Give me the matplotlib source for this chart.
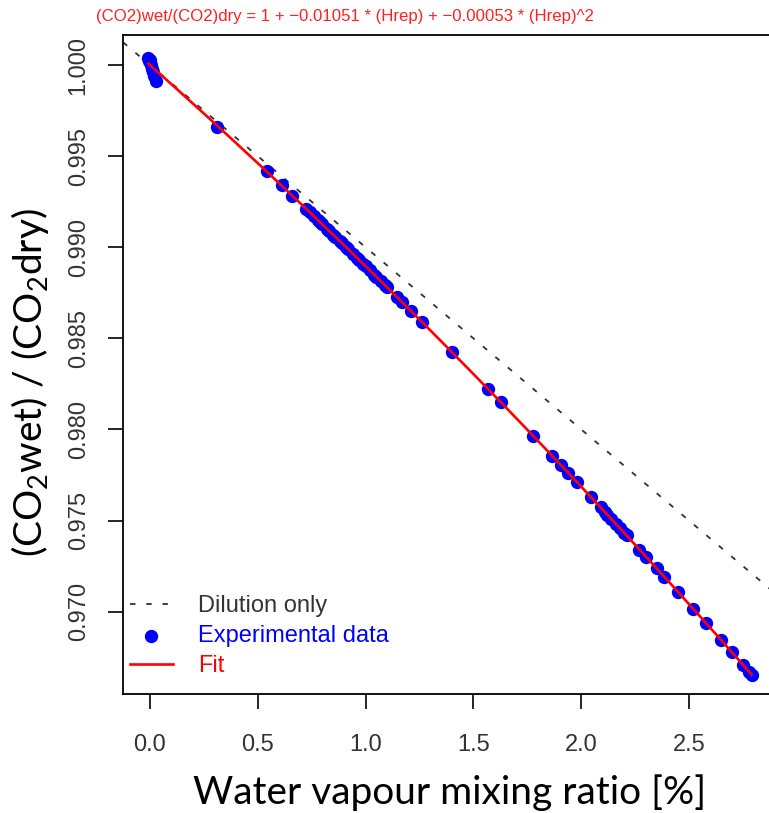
import matplotlib
matplotlib.use('Agg')
import matplotlib.pyplot as plt
import numpy as np

plt.rcParams['font.family'] = ['Liberation Sans', 'DejaVu Sans']
plt.rcParams['mathtext.fontset'] = 'custom'
plt.rcParams['mathtext.rm'] = 'Lato'

hrep = [-0.008, 0.0, -0.004, 0.004, 0.008, 0.012, 0.02, 0.028,
        0.31, 0.543, 0.612, 0.659, 0.723,
        0.74, 0.76, 0.78, 0.79, 0.80, 0.82, 0.83, 0.85, 0.86, 0.88, 0.89,
        0.91, 0.92, 0.94, 0.96, 0.97, 0.99, 1.00, 1.02, 1.04, 1.05, 1.07,
        1.09, 1.10, 1.146, 1.17, 1.21, 1.26,
        1.40, 1.568, 1.628, 1.777, 1.864, 1.906, 1.94, 1.98, 2.045,
        2.09, 2.11, 2.12, 2.14, 2.16, 2.18, 2.20, 2.21,
        2.27, 2.30, 2.35, 2.385, 2.45, 2.52, 2.58, 2.65, 2.70, 2.75, 2.78, 2.79]
ratio = [1.0004, 1.0003, 1.0002, 1.0000, 0.9998, 0.9996, 0.9994, 0.9991,
         0.9966, 0.9942, 0.9934, 0.9928, 0.9921,
         0.99193, 0.99170, 0.99148, 0.99136, 0.99125, 0.99102, 0.99091,
         0.99068, 0.99057, 0.99034, 0.99022, 0.98999, 0.98988, 0.98965,
         0.98942, 0.98931, 0.98908, 0.98896, 0.98873, 0.98850, 0.98838,
         0.98815, 0.98792, 0.98780, 0.98726, 0.98698, 0.98651, 0.98592,
         0.98425, 0.98222, 0.98149, 0.97965, 0.97857, 0.97804, 0.97762,
         0.97711, 0.97629,
         0.97572, 0.97546, 0.97533, 0.97508, 0.97482, 0.97457, 0.97431, 0.97418,
         0.97341, 0.97302, 0.97237, 0.97192, 0.97107, 0.97015, 0.96936,
         0.96843, 0.96776, 0.96709, 0.96669, 0.96655]

# fit coefficients (from the title) and dilution slope
a1 = -0.01051
a2 = -0.00053
dilution_slope = -0.01

xticks = [0.0, 0.5, 1.0, 1.5, 2.0, 2.5]
yticks = [0.970, 0.975, 0.980, 0.985, 0.990, 0.995, 1.000]

W, H = 769, 813
fig = plt.figure(figsize=(W / 100, H / 100), dpi=100)
ax = fig.add_axes([123 / W, 119 / H, 654 / W, 659 / H])

ax.axline((0, 1), slope=dilution_slope, color='#333333', lw=1.3,
          dashes=(3, 6), label='Dilution only', zorder=1)
ax.scatter(hrep, ratio, s=92, color='#0000ff', lw=0, label='Experimental data', zorder=2)
xf = np.linspace(min(hrep), max(hrep), 200)
ax.plot(xf, 1 + a1 * xf + a2 * xf ** 2, color='#ff0000', lw=1.9, label='Fit', zorder=3)

ax.set_xlim(-0.1252, 2.908)
ax.set_ylim(0.96548, 1.00165)
ax.set_xticks(xticks)
ax.set_xticklabels(['%.1f' % v for v in xticks])
ax.set_yticks(yticks)
ax.set_yticklabels(['%.3f' % v for v in yticks], rotation=90, va='center')
ax.tick_params(direction='out', length=11, width=1.2, labelsize=17,
               labelcolor='#333333')
ax.tick_params(axis='x', pad=18)
ax.tick_params(axis='y', pad=13)
for sp in ax.spines.values():
    sp.set_linewidth(1.3)

leg = ax.legend(loc='upper left', bbox_to_anchor=(7 / 654, 99 / 659),
                frameon=False, fontsize=17, borderpad=0, borderaxespad=0,
                handlelength=1.8, handletextpad=1.1, labelspacing=0.34)
for t, c in zip(leg.get_texts(), ['#333333', '#0000ff', '#ff0000']):
    t.set_color(c)

fig.text(345 / W, 1 - 17 / H,
         '(CO2)wet/(CO2)dry = 1 + \u22120.01051 * (Hrep) + \u22120.00053 * (Hrep)^2',
         color='#ff2020', fontsize=12.1, ha='center', va='center')
fig.text(450 / W, 1 - 793 / H, 'Water vapour mixing ratio [%]',
         family='Lato', fontsize=28, ha='center', va='center')
fig.text(30 / W, 1 - 383 / H, r'(CO$_2$wet) / (CO$_2$dry)',
         family='Lato', fontsize=28, rotation=90, ha='center', va='center')

fig.savefig('out.png', dpi=100)
